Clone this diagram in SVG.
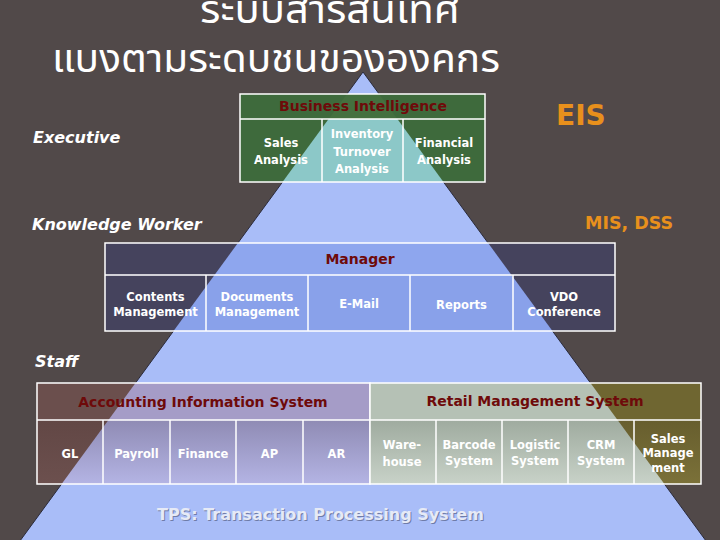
<svg xmlns="http://www.w3.org/2000/svg" width="720" height="540" viewBox="0 0 720 540">
<defs>
<style>
.title{font-family:"Noto Sans Thai","Noto Sans","DejaVu Sans",sans-serif;font-size:40px;fill:#ffffff}
.lvl{font-family:"DejaVu Sans",sans-serif;font-weight:bold;font-style:italic;font-size:16px;fill:#ffffff}
.sys{font-family:"DejaVu Sans",sans-serif;font-weight:bold;fill:#e8901c}
.hdr{font-family:"DejaVu Sans",sans-serif;font-weight:bold;font-size:14px;fill:#6e0a0a;text-anchor:middle}
.cell{font-family:"DejaVu Sans",sans-serif;font-weight:bold;font-size:11.5px;fill:#ffffff;text-anchor:middle}
.grid{stroke:#ffffff;stroke-width:1.5;fill:none}
.tps{font-family:"DejaVu Sans",sans-serif;font-weight:bold;font-size:16px}
</style>
<clipPath id="tri"><polygon points="363,72 17,545 709,545"/></clipPath>
<linearGradient id="accOut" x1="0" y1="0" x2="0" y2="1"><stop offset="0" stop-color="#624745"/><stop offset="1" stop-color="#6c504e"/></linearGradient>
<linearGradient id="accIn" x1="0" y1="0" x2="0" y2="1"><stop offset="0" stop-color="#8f8bb4"/><stop offset="1" stop-color="#b4b4e4"/></linearGradient>
<linearGradient id="retOut" x1="0" y1="0" x2="0" y2="1"><stop offset="0" stop-color="#675e2e"/><stop offset="1" stop-color="#7b7139"/></linearGradient>
<linearGradient id="retIn" x1="0" y1="0" x2="0" y2="1"><stop offset="0" stop-color="#9fab9f"/><stop offset="1" stop-color="#c8d2c8"/></linearGradient>
</defs>
<rect width="720" height="540" fill="#514949"/>
<g id="title">
<text class="title" x="330" y="23" text-anchor="middle" textLength="260" lengthAdjust="spacingAndGlyphs">ระบบสารสนเทศ</text>
<text class="title" x="52" y="72" textLength="448" lengthAdjust="spacingAndGlyphs">แบงตามระดบชนขององคกร</text>
</g>
<g id="pyramid"><polygon points="363,72 17,545 709,545" fill="#a9bdf8" stroke="#2a2a3a" stroke-width="1"/></g>
<g id="connectors"/>
<g id="labels">
<text class="lvl" x="33" y="143">Executive</text>
<text class="lvl" x="32" y="230">Knowledge Worker</text>
<text class="lvl" x="35" y="367">Staff</text>
<text class="sys" x="556" y="125" font-size="28">EIS</text>
<text class="sys" x="585" y="229" font-size="17.5">MIS, DSS</text>
</g>
<g id="bi">
<rect x="240" y="94" width="245" height="88" fill="#3e6a3c"/>
<g clip-path="url(#tri)"><rect x="240" y="94" width="245" height="25" fill="#44703f"/><rect x="240" y="119" width="245" height="63" fill="#8cc8c8"/></g>
<rect class="grid" x="240" y="94" width="245" height="88"/>
<path class="grid" d="M240 119H485M322 119V182M403 119V182"/>
<text class="hdr" x="363" y="111">Business Intelligence</text>
<text class="cell" x="281" y="147">Sales</text><text class="cell" x="281" y="164">Analysis</text>
<text class="cell" x="362" y="138">Inventory</text><text class="cell" x="362" y="156">Turnover</text><text class="cell" x="362" y="173">Analysis</text>
<text class="cell" x="444" y="147">Financial</text><text class="cell" x="444" y="164">Analysis</text>
</g>
<g id="manager">
<rect x="105" y="243" width="510" height="88" fill="#45435d"/>
<g clip-path="url(#tri)"><rect x="105" y="243" width="510" height="32" fill="#8ea6ee"/><rect x="105" y="275" width="510" height="56" fill="#89a1ea"/></g>
<rect class="grid" x="105" y="243" width="510" height="88"/>
<path class="grid" d="M105 275H615M206 275V331M308 275V331M410 275V331M513 275V331"/>
<text class="hdr" x="360" y="264">Manager</text>
<text class="cell" x="155.5" y="301">Contents</text><text class="cell" x="155.5" y="316">Management</text>
<text class="cell" x="257" y="301">Documents</text><text class="cell" x="257" y="316">Management</text>
<text class="cell" x="359" y="308">E-Mail</text>
<text class="cell" x="461.5" y="309">Reports</text>
<text class="cell" x="564" y="301">VDO</text><text class="cell" x="564" y="316">Conference</text>
</g>
<g id="accounting">
<rect x="37" y="383" width="333" height="37" fill="#6b4f4d"/>
<rect x="37" y="420" width="333" height="64" fill="url(#accOut)"/>
<g clip-path="url(#tri)"><rect x="37" y="383" width="333" height="37" fill="#a59cc7"/><rect x="37" y="420" width="333" height="64" fill="url(#accIn)"/></g>
<rect class="grid" x="37" y="383" width="333" height="101"/>
<path class="grid" d="M37 420H370M103 420V484M170 420V484M236 420V484M303 420V484"/>
<text class="hdr" x="203" y="407">Accounting Information System</text>
<text class="cell" x="70" y="458">GL</text>
<text class="cell" x="136.5" y="458">Payroll</text>
<text class="cell" x="203" y="458">Finance</text>
<text class="cell" x="269.5" y="458">AP</text>
<text class="cell" x="336.5" y="458">AR</text>
</g>
<g id="retail">
<rect x="370" y="383" width="331" height="37" fill="#6f6631"/>
<rect x="370" y="420" width="331" height="64" fill="url(#retOut)"/>
<g clip-path="url(#tri)"><rect x="370" y="383" width="331" height="37" fill="#b5c1b5"/><rect x="370" y="420" width="331" height="64" fill="url(#retIn)"/></g>
<rect class="grid" x="370" y="383" width="331" height="101"/>
<path class="grid" d="M370 420H701M436 420V484M502 420V484M568 420V484M634 420V484"/>
<text class="hdr" x="535" y="406">Retail Management System</text>
<text class="cell" x="402" y="449">Ware-</text><text class="cell" x="402" y="466">house</text>
<text class="cell" x="469" y="449">Barcode</text><text class="cell" x="469" y="465">System</text>
<text class="cell" x="535" y="449">Logistic</text><text class="cell" x="535" y="465">System</text>
<text class="cell" x="601" y="449">CRM</text><text class="cell" x="601" y="465">System</text>
<text class="cell" x="668" y="443">Sales</text><text class="cell" x="668" y="457">Manage</text><text class="cell" x="668" y="472">ment</text>
</g>
<g id="tps">
<text class="tps" x="158" y="521" fill="#6f7ca8">TPS: Transaction Processing System</text>
<text class="tps" x="157" y="520" fill="#e6eaf6">TPS: Transaction Processing System</text>
</g>
</svg>
